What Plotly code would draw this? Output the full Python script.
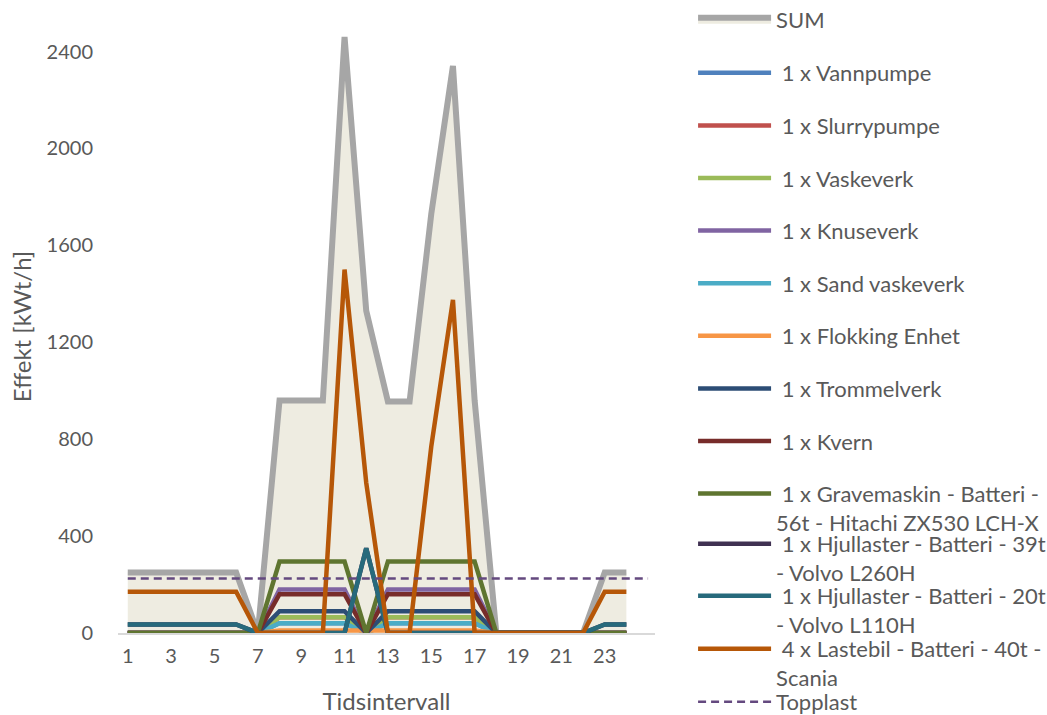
import plotly.graph_objects as go

hours = list(range(1, 25))
hours_top = list(range(1, 26))
tick_vals = [1, 3, 5, 7, 9, 11, 13, 15, 17, 19, 21, 23]
y_ticks = [0, 400, 800, 1200, 1600, 2000, 2400]

sum_vals = [250, 250, 250, 250, 250, 250, 0, 960, 960, 960, 2460, 1330,
            955, 955, 1730, 2340, 960, 0, 0, 0, 0, 0, 250, 250]
vannpumpe = [0, 0, 0, 0, 0, 0, 0, 40, 40, 40, 40, 0, 40, 40, 40, 40, 40, 0, 0, 0, 0, 0, 0, 0]
slurrypumpe = [0, 0, 0, 0, 0, 0, 0, 65, 65, 65, 65, 0, 65, 65, 65, 65, 65, 0, 0, 0, 0, 0, 0, 0]
vaskeverk = [0, 0, 0, 0, 0, 0, 0, 65, 65, 65, 65, 0, 65, 65, 65, 65, 65, 0, 0, 0, 0, 0, 0, 0]
knuseverk = [0, 0, 0, 0, 0, 0, 0, 180, 180, 180, 180, 0, 180, 180, 180, 180, 180, 0, 0, 0, 0, 0, 0, 0]
sand_vask = [0, 0, 0, 0, 0, 0, 0, 40, 40, 40, 40, 0, 40, 40, 40, 40, 40, 0, 0, 0, 0, 0, 0, 0]
flokking = [0, 0, 0, 0, 0, 0, 0, 10, 10, 10, 10, 10, 10, 10, 10, 10, 10, 0, 0, 0, 0, 0, 0, 0]
trommelverk = [0, 0, 0, 0, 0, 0, 0, 90, 90, 90, 90, 0, 90, 90, 90, 90, 90, 0, 0, 0, 0, 0, 0, 0]
kvern = [0, 0, 0, 0, 0, 0, 0, 160, 160, 160, 160, 0, 160, 160, 160, 160, 160, 0, 0, 0, 0, 0, 0, 0]
gravemaskin = [0, 0, 0, 0, 0, 0, 0, 295, 295, 295, 295, 0, 295, 295, 295, 295, 295, 0, 0, 0, 0, 0, 0, 0]
hjul39 = [35, 35, 35, 35, 35, 35, 0, 0, 0, 0, 0, 350, 0, 0, 0, 0, 0, 0, 0, 0, 0, 0, 35, 35]
hjul20 = [35, 35, 35, 35, 35, 35, 0, 0, 0, 0, 0, 350, 0, 0, 0, 0, 0, 0, 0, 0, 0, 0, 35, 35]
lastebil = [170, 170, 170, 170, 170, 170, 0, 0, 0, 0, 1500, 620, 0, 0, 770, 1375, 0, 0, 0, 0, 0, 0, 170, 170]
topplast = [225] * 25

series = [
    (" 1 x Vannpumpe", vannpumpe, "#4F81BD", "legend6"),
    (" 1 x Slurrypumpe", slurrypumpe, "#C0504D", "legend6"),
    (" 1 x Vaskeverk", vaskeverk, "#9BBB59", "legend6"),
    (" 1 x Knuseverk", knuseverk, "#8064A2", "legend6"),
    (" 1 x Sand vaskeverk", sand_vask, "#4BACC6", "legend6"),
    (" 1 x Flokking Enhet", flokking, "#F79646", "legend6"),
    (" 1 x Trommelverk", trommelverk, "#2C4D75", "legend6"),
    (" 1 x Kvern", kvern, "#772C2A", "legend6"),
    (" 1 x Gravemaskin - Batteri -<br>56t - Hitachi ZX530 LCH-X", gravemaskin, "#5F7530", "legend6"),
    (" 1 x Hjullaster - Batteri - 39t<br>- Volvo L260H", hjul39, "#403152", "legend2"),
    (" 1 x Hjullaster - Batteri - 20t<br>- Volvo L110H", hjul20, "#276A7C", "legend3"),
    (" 4 x Lastebil - Batteri - 40t -<br>Scania", lastebil, "#B65708", "legend4"),
]

FONT = "Lato"
TXT = "#595959"
LEG_FONT = dict(size=22, color=TXT, family=FONT)

fig = go.Figure()
fig.add_trace(go.Scatter(
    x=hours, y=sum_vals, name="SUM", mode="lines",
    line=dict(color="#A6A6A6", width=6), fill="tozeroy", fillcolor="#EEECE1",
    legend="legend", legendgroup="g0",
))
for i, (name, vals, col, leg) in enumerate(series):
    fig.add_trace(go.Scatter(
        x=hours, y=vals, name=name, mode="lines",
        line=dict(color=col, width=4.5), legend=leg, legendgroup="g%d" % (i + 1),
    ))
fig.add_trace(go.Scatter(
    x=hours_top, y=topplast, name="Topplast", mode="lines",
    line=dict(color="#64497F", width=2.5, dash="8px,5px"),
    legend="legend5", legendgroup="g99",
))


def leg(y, gap=0):
    return dict(
        x=1.0709, y=y, xanchor="left", yanchor="top",
        bgcolor="rgba(0,0,0,0)", font=LEG_FONT,
        tracegroupgap=gap, valign="top", itemwidth=73,
    )


fig.update_layout(
    width=1047, height=715,
    margin=dict(l=118, r=392, t=20, b=82, autoexpand=False),
    paper_bgcolor="white", plot_bgcolor="white",
    font=dict(family=FONT, size=19, color=TXT),
    showlegend=True,
    xaxis=dict(
        range=[0.55, 25.32], tickmode="array", tickvals=tick_vals,
        ticktext=[str(v) for v in tick_vals],
        showgrid=False, zeroline=False, showline=True, linecolor="#D9D9D9", linewidth=1.5,
        ticks="", tickfont=dict(size=20, color=TXT), ticklabelstandoff=4,
        title=dict(text="Tidsintervall", font=dict(size=24, color=TXT), standoff=31),
    ),
    yaxis=dict(
        range=[0, 2530], tickmode="array", tickvals=y_ticks,
        showgrid=False, zeroline=False, showline=False, ticks="",
        tickfont=dict(size=20, color=TXT), ticklabelstandoff=24,
        title=dict(text="Effekt [kWt/h]", font=dict(size=24, color=TXT), standoff=8),
    ),
    legend=leg(1.0343),
    legend6=leg(0.9478, 21),
    legend2=leg(0.1794),
    legend3=leg(0.0946),
    legend4=leg(0.0082),
    legend5=leg(-0.0783),
)

fig.write_html(
    "out.html",
    config={"displayModeBar": False},
    post_script="document.body.style.margin='0';document.body.style.overflow='hidden';",
)
